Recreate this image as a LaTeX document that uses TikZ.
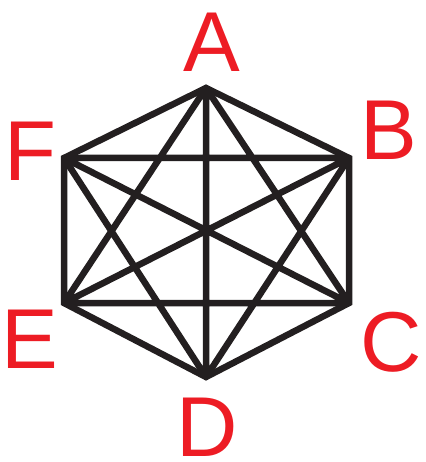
\documentclass[tikz,border=0pt]{standalone}
\usepackage{fontspec}
\setmainfont{Liberation Sans}
\definecolor{lblred}{HTML}{ED1C24}
\definecolor{edgeblk}{HTML}{231F20}
\begin{document}
\begin{tikzpicture}[x=1pt,y=-1pt,
  edge/.style={draw=edgeblk,line width=6.5pt,line join=miter},
  lbl/.style={text=lblred,font=\fontsize{85}{85}\selectfont,anchor=base,inner sep=0pt,text depth=0pt}]
\useasboundingbox (0,0) rectangle (425,462);
\coordinate (A) at (206,88);
\coordinate (B) at (349,158);
\coordinate (C) at (349,303);
\coordinate (D) at (206,377);
\coordinate (E) at (64,303);
\coordinate (F) at (64,158);
\draw[edge] (A) -- (B) -- (C) -- (D) -- (E) -- (F) -- cycle;
\draw[edge] (A) -- (C) (A) -- (D) (A) -- (E)
            (B) -- (D) (B) -- (E) (B) -- (F)
            (C) -- (E) (C) -- (F) (D) -- (F);
\node[lbl] (lA) at (212,72) {A};
\node[lbl] (lB) at (389,160) {B};
\node[lbl] (lC) at (391,371) {C};
\node[lbl] (lD) at (207,456) {D};
\node[lbl] (lE) at (30,368) {E};
\node[lbl] (lF) at (30,181) {F};
\end{tikzpicture}
\end{document}
